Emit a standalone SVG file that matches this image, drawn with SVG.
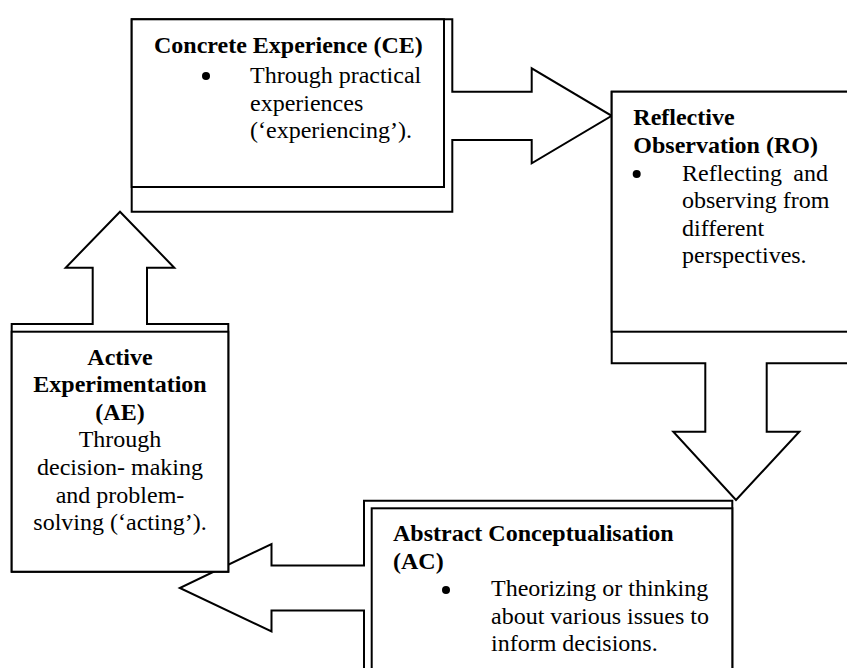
<svg xmlns="http://www.w3.org/2000/svg" width="847" height="668" viewBox="0 0 847 668">
<style>
.shape{fill:#fff;stroke:#000;stroke-width:2;stroke-linejoin:miter}
.box{fill:#fff;stroke:#000;stroke-width:2}
.t{font-family:"Liberation Serif","Times New Roman",serif;font-size:24px;fill:#000}
.b{font-weight:bold}
.c{text-anchor:middle}
.dot{fill:#000}
</style>
<rect x="0" y="0" width="847" height="668" fill="#fff"/>
<g id="connectors">
<polygon class="shape" points="131.7,19.3 452.3,19.3 452.3,91.7 531.7,91.7 531.7,68.3 611.7,115.8 531.7,163.3 531.7,140 452.3,140 452.3,211.7 131.7,211.7"/>
<polygon class="shape" points="611.7,91.7 860,91.7 860,363.3 766.7,363.3 766.7,431.7 799.3,431.7 736,500 673.3,431.7 705.3,431.7 705.3,363.3 611.7,363.3"/>
<polygon class="shape" points="364,500.7 732.3,500.7 732.3,700 364,700 364,610.5 271.5,610.5 271.5,631.5 179.8,588 271.5,544 271.5,565.5 364,565.5"/>
<polygon class="shape" points="11.7,571.7 11.7,324 92.7,324 92.7,267.7 65.7,267.7 120,211.7 174.3,267.7 147,267.7 147,324 228.3,324 228.3,571.7"/>
</g>
<g id="node-ce">
<rect class="box" x="131.7" y="19.3" width="312.3" height="167.7"/>
<text class="t b" x="154" y="52.5">Concrete Experience (CE)</text>
<circle class="dot" cx="206" cy="76" r="4"/>
<text class="t" x="250" y="83">Through practical</text>
<text class="t" x="250" y="110.6">experiences</text>
<text class="t" x="250" y="138.2">(‘experiencing’).</text>
</g>
<g id="node-ro">
<rect class="box" x="611.7" y="91.7" width="250" height="240"/>
<text class="t b" x="633.3" y="125.3">Reflective</text>
<text class="t b" x="633.3" y="152.9">Observation (RO)</text>
<circle class="dot" cx="636.7" cy="174" r="4"/>
<text class="t" x="682" y="180.5" word-spacing="5.4">Reflecting and</text>
<text class="t" x="682" y="208.1">observing from</text>
<text class="t" x="682" y="235.7">different</text>
<text class="t" x="682" y="263.3">perspectives.</text>
</g>
<g id="node-ac">
<rect class="box" x="371.7" y="508.3" width="360.6" height="200"/>
<text class="t b" x="393" y="541">Abstract Conceptualisation</text>
<text class="t b" x="393" y="568.6">(AC)</text>
<circle class="dot" cx="446" cy="590" r="4"/>
<text class="t" x="491" y="596.2">Theorizing or thinking</text>
<text class="t" x="491" y="623.8">about various issues to</text>
<text class="t" x="491" y="651.4">inform decisions.</text>
</g>
<g id="node-ae">
<rect class="box" x="11.7" y="331.7" width="216.6" height="240"/>
<text class="t b c" x="120" y="364.5">Active</text>
<text class="t b c" x="120" y="392.1">Experimentation</text>
<text class="t b c" x="120" y="419.7">(AE)</text>
<text class="t c" x="120" y="447.3">Through</text>
<text class="t c" x="120" y="474.9">decision- making</text>
<text class="t c" x="120" y="502.5">and problem-</text>
<text class="t c" x="120" y="530.1">solving (‘acting’).</text>
</g>
</svg>
